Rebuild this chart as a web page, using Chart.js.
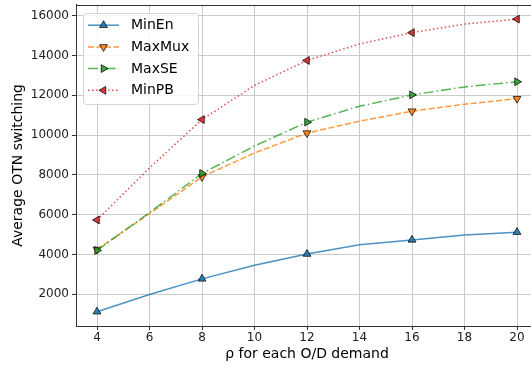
<!DOCTYPE html>
<html>
<head>
<meta charset="utf-8">
<script src="https://cdn.jsdelivr.net/npm/chart.js@4/dist/chart.umd.min.js"></script>
<style>
  html, body { margin: 0; padding: 0; background: #fff; width: 531px; height: 368px; overflow: hidden; }
  #wrap { position: absolute; left: 0; top: 0; width: 546px; height: 368px; }
</style>
</head>
<body>
<div id="wrap"><canvas id="chart" width="546" height="368"></canvas></div>
<script>
// rho values (per O/D demand) and average OTN switching per strategy
const rho    = [4, 6, 8, 10, 12, 14, 16, 18, 20];
const minEn  = [1120, 1980, 2770, 3450, 4020, 4480, 4730, 4980, 5120];
const maxMux = [4250, 6050, 7900, 9100, 10100, 10700, 11200, 11550, 11830];
const maxSE  = [4200, 6100, 8070, 9450, 10650, 11450, 12020, 12420, 12680];
const minPB  = [5730, 8350, 10780, 12500, 13750, 14580, 15150, 15580, 15830];

const xTicks = [4, 6, 8, 10, 12, 14, 16, 18, 20];
const yTicks = [2000, 4000, 6000, 8000, 10000, 12000, 14000, 16000];

const FONT = '"DejaVu Sans", "Liberation Sans", sans-serif';

function pts(xs, ys) { return xs.map((x, i) => ({ x: x, y: ys[i] })); }

// markers only on every other sample
const markEvery = ctx => (ctx.dataIndex % 2 === 0 ? 4.5 : 0);

function series(label, data, line, face, rotation, dash, order) {
  return {
    label: label,
    data: pts(rho, data),
    borderColor: line,
    borderWidth: 1.5,
    borderDash: dash,
    backgroundColor: face,
    pointStyle: 'triangle',
    pointRotation: rotation,
    pointRadius: markEvery,
    pointHoverRadius: markEvery,
    pointBackgroundColor: face,
    pointBorderColor: 'rgba(0,0,0,0.75)',
    pointBorderWidth: 1,
    tension: 0,
    fill: false,
    order: order
  };
}

function triangle(ctx, x, y, r, rotDeg) {
  let rad = rotDeg * Math.PI / 180;
  const step = 2 * Math.PI / 3;
  ctx.beginPath();
  for (let k = 0; k < 3; k++) {
    const px = x + Math.sin(rad) * r, py = y - Math.cos(rad) * r;
    if (k === 0) ctx.moveTo(px, py); else ctx.lineTo(px, py);
    rad += step;
  }
  ctx.closePath();
  ctx.fill();
  ctx.stroke();
}

// legend with line samples and markers, plus the top frame line
const frameAndLegend = {
  id: 'frameAndLegend',
  afterDatasetsDraw(chart) {
    const { ctx, chartArea } = chart;
    ctx.save();
    // top spine
    ctx.beginPath();
    ctx.strokeStyle = '#333';
    ctx.lineWidth = 1;
    ctx.moveTo(chartArea.left, Math.round(chartArea.top) + 0.5);
    ctx.lineTo(chartArea.right, Math.round(chartArea.top) + 0.5);
    ctx.stroke();

    const x0 = chartArea.left + 7, y0 = chartArea.top + 8;
    const w = 115, h = 91, rowH = 21.7;
    ctx.beginPath();
    ctx.roundRect(Math.round(x0) + 0.5, Math.round(y0) + 0.5, w, h, 3);
    ctx.fillStyle = 'rgba(255,255,255,0.8)';
    ctx.fill();
    ctx.strokeStyle = '#d4d4d4';
    ctx.stroke();

    chart.data.datasets.forEach((ds, i) => {
      const cy = y0 + 12.4 + i * rowH;
      const lx0 = x0 + 5, lx1 = x0 + 36;
      ctx.beginPath();
      ctx.setLineDash(ds.borderDash || []);
      ctx.strokeStyle = ds.borderColor;
      ctx.lineWidth = ds.borderWidth;
      ctx.moveTo(lx0, cy);
      ctx.lineTo(lx1, cy);
      ctx.stroke();
      ctx.setLineDash([]);
      ctx.fillStyle = ds.pointBackgroundColor;
      ctx.strokeStyle = ds.pointBorderColor;
      ctx.lineWidth = ds.pointBorderWidth;
      triangle(ctx, (lx0 + lx1) / 2, cy, 4.5, ds.pointRotation);
      ctx.fillStyle = '#000';
      ctx.font = '14px ' + FONT;
      ctx.textBaseline = 'middle';
      ctx.textAlign = 'left';
      ctx.fillText(ds.label, x0 + 48, cy + 0.5);
    });
    ctx.restore();
  }
};

new Chart(document.getElementById('chart'), {
  type: 'line',
  data: {
    datasets: [
      series('MinEn',  minEn,  'rgba(31,119,180,0.8)', 'rgba(31,119,180,0.9)',  0,   [],                3),
      series('MaxMux', maxMux, 'rgba(255,127,14,0.8)', 'rgba(255,127,14,0.9)',  180, [6, 2.5],          2),
      series('MaxSE',  maxSE,  'rgba(44,160,44,0.8)',  'rgba(44,160,44,0.9)',   90,  [10, 3, 1.5, 3],   1),
      series('MinPB',  minPB,  'rgba(214,39,40,0.8)',  'rgba(214,39,40,0.9)',   -90, [1.5, 2.5],        0)
    ]
  },
  options: {
    responsive: false,
    animation: false,
    events: [],
    layout: { autoPadding: false, padding: { left: 0, right: 8, top: 3, bottom: 0 } },
    plugins: { legend: { display: false }, tooltip: { enabled: false } },
    scales: {
      x: {
        type: 'linear',
        min: 3.2,
        max: 20.8,
        afterBuildTicks: s => { s.ticks = xTicks.map(v => ({ value: v })); },
        afterFit: s => { s.height = 42; },
        grid: { color: '#cacaca', lineWidth: 1, tickColor: '#333', tickLength: 4, drawTicks: true },
        border: { color: '#333', width: 1 },
        ticks: { font: { family: FONT, size: 12 }, color: '#222', padding: 1, maxRotation: 0, autoSkip: false },
        title: { display: true, text: 'ρ for each O/D demand', font: { family: FONT, size: 14 }, color: '#000', padding: { top: 0, bottom: 5 } }
      },
      y: {
        type: 'linear',
        min: 400,
        max: 16550,
        afterBuildTicks: s => { s.ticks = yTicks.map(v => ({ value: v })); },
        afterFit: s => { s.width = 76; },
        grid: { color: '#cacaca', lineWidth: 1, tickColor: '#333', tickLength: 4, drawTicks: true },
        border: { color: '#333', width: 1 },
        ticks: { font: { family: FONT, size: 12, lineHeight: 0.3 }, color: '#222', padding: 3, autoSkip: false, callback: v => String(v) },
        title: { display: true, text: 'Average OTN switching', font: { family: FONT, size: 14 }, color: '#000', padding: { top: 10, bottom: 0 } }
      }
    }
  },
  plugins: [frameAndLegend]
});
</script>
</body>
</html>
